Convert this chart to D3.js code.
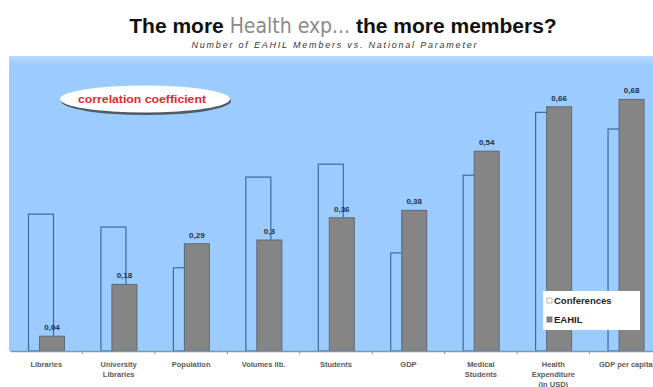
<!DOCTYPE html>
<html>
<head>
<meta charset="utf-8">
<script src="https://cdn.jsdelivr.net/npm/d3@7"></script>
<style>
  body { margin: 0; background: #fff; }
  svg { display: block; font-family: "Liberation Sans", Arial, sans-serif; }
</style>
</head>
<body>
<div id="chart"></div>
<script>
var categories = ["Libraries", "University Libraries", "Population", "Volumes lib.", "Students",
                  "GDP", "Medical Students", "Health Expenditure", "GDP per capita"]
var categoryLines = [["Libraries"], ["University", "Libraries"], ["Population"], ["Volumes lib."],
                     ["Students"], ["GDP"], ["Medical", "Students"], ["Health", "Expenditure", "(in USD)"],
                     ["GDP per capita"]]
var conferences = [0.37, 0.335, 0.225, 0.47, 0.505, 0.265, 0.475, 0.645, 0.60]
var eahil = [0.04, 0.18, 0.29, 0.3, 0.36, 0.38, 0.54, 0.66, 0.68]
var eahilLabels = ["0,04", "0,18", "0,29", "0,3", "0,36", "0,38", "0,54", "0,66", "0,68"]
var seriesNames = ["Conferences", "EAHIL"]

var width = 653, height = 387
var plot = {left: 9, right: 662, top: 56, bottom: 351}

var svg = d3.select("#chart").append("svg")
    .attr("width", width)
    .attr("height", height)

// plot background
var grad = svg.append("defs").append("linearGradient")
    .attr("id", "bg").attr("x1", 0).attr("y1", 0).attr("x2", 0).attr("y2", 1)
grad.append("stop").attr("offset", "0").attr("stop-color", "#b8dcff")
grad.append("stop").attr("offset", "0.03").attr("stop-color", "#9ccbff")
grad.append("stop").attr("offset", "1").attr("stop-color", "#9ccbff")

svg.append("rect")
    .attr("x", plot.left).attr("y", plot.top)
    .attr("width", plot.right - plot.left).attr("height", plot.bottom - plot.top)
    .attr("fill", "url(#bg)")

var x = d3.scaleBand()
    .domain(categories)
    .range([plot.left + 1, plot.right])
    .padding(0)

var y = d3.scaleLinear()
    .domain([0, 0.8])
    .range([plot.bottom, plot.bottom - 0.8 * 370])

var bw = x.bandwidth()
var barW = 25

// conference bars (outline only, behind)
svg.append("g").selectAll("rect")
    .data(conferences)
    .join("rect")
    .attr("x", (d, i) => x(categories[i]) + 18.5)
    .attr("y", d => y(d))
    .attr("width", barW)
    .attr("height", d => y(0) - y(d))
    .attr("fill", "none")
    .attr("stroke", "#3a6c9e")
    .attr("stroke-width", 1.2)

// EAHIL bars
svg.append("g").selectAll("rect")
    .data(eahil)
    .join("rect")
    .attr("x", (d, i) => x(categories[i]) + 29.5)
    .attr("y", d => y(d))
    .attr("width", barW)
    .attr("height", d => y(0) - y(d))
    .attr("fill", "#858585")
    .attr("stroke", "#5e6a76")
    .attr("stroke-width", 1)

// value labels
svg.append("g").selectAll("text")
    .data(eahil)
    .join("text")
    .attr("x", (d, i) => x(categories[i]) + 29.5 + barW / 2)
    .attr("y", d => y(d) - 6)
    .attr("text-anchor", "middle")
    .attr("font-size", 8)
    .attr("font-weight", "bold")
    .attr("fill", "#1c2f4a")
    .text((d, i) => eahilLabels[i])

// x axis
var axis = svg.append("g")
    .attr("transform", "translate(0," + plot.bottom + ")")
    .call(d3.axisBottom(x).tickSize(0).tickFormat(""))
axis.select(".domain").attr("stroke", "#7f97b0").attr("stroke-width", 1.5)
axis.selectAll(".sep")
    .data(categories.slice(1))
    .join("line")
    .attr("class", "sep")
    .attr("x1", d => x(d)).attr("x2", d => x(d))
    .attr("y1", 0).attr("y2", 3)
    .attr("stroke", "#7f97b0")

var labels = svg.append("g").selectAll("text")
    .data(categoryLines)
    .join("text")
    .attr("x", (d, i) => x(categories[i]) + bw / 2)
    .attr("y", 367)
    .attr("text-anchor", "middle")
    .attr("font-size", 7.5)
    .attr("font-weight", "bold")
    .attr("fill", "#5a5a5a")
labels.selectAll("tspan")
    .data(d => d)
    .join("tspan")
    .attr("x", function() { return d3.select(this.parentNode).attr("x") })
    .attr("dy", (d, i) => i === 0 ? 0 : 10)
    .text(d => d)

// correlation coefficient bubble
svg.append("ellipse")
    .attr("cx", 146).attr("cy", 101).attr("rx", 85).attr("ry", 14)
    .attr("fill", "#505a66")
svg.append("ellipse")
    .attr("cx", 145).attr("cy", 99).attr("rx", 85).attr("ry", 13.5)
    .attr("fill", "#fff")
svg.append("text")
    .attr("x", 142).attr("y", 102.5)
    .attr("text-anchor", "middle")
    .attr("font-size", 10)
    .attr("font-weight", "bold")
    .attr("fill", "#e8262c")
    .attr("textLength", 128)
    .attr("lengthAdjust", "spacingAndGlyphs")
    .text("correlation coefficient")

// legend
var legend = svg.append("g").attr("transform", "translate(543,291)")
legend.append("rect")
    .attr("width", 97).attr("height", 39)
    .attr("fill", "#fff")
legend.selectAll("rect.key")
    .data(seriesNames)
    .join("rect")
    .attr("class", "key")
    .attr("x", 4).attr("y", (d, i) => 7 + i * 19)
    .attr("width", 5).attr("height", 5)
    .attr("fill", (d, i) => i === 0 ? "#fff" : "#858585")
    .attr("stroke", (d, i) => i === 0 ? "#9aa" : "#5e6a76")
    .attr("stroke-width", 0.8)
legend.selectAll("text")
    .data(seriesNames)
    .join("text")
    .attr("x", 11).attr("y", (d, i) => 13 + i * 19)
    .attr("font-size", 9.5)
    .attr("font-weight", "bold")
    .attr("fill", "#222")
    .text(d => d)

// titles
var title = svg.append("text")
    .attr("x", 343).attr("y", 33)
    .attr("text-anchor", "middle")
    .attr("font-size", 21)
    .attr("font-weight", "bold")
    .attr("fill", "#111")
title.append("tspan").text("The more ")
title.append("tspan")
    .attr("font-weight", "normal")
    .attr("fill", "#8a8a8a")
    .attr("font-family", "'Liberation Sans Narrow', 'DejaVu Sans Condensed', sans-serif")
    .text("Health  exp...")
title.append("tspan").text(" the more members?")

svg.append("text")
    .attr("x", 334).attr("y", 48)
    .attr("text-anchor", "middle")
    .attr("font-size", 9)
    .attr("font-style", "italic")
    .attr("fill", "#333")
    .attr("textLength", 285)
    .attr("lengthAdjust", "spacing")
    .text("Number of EAHIL Members vs. National Parameter")
</script>
</body>
</html>
